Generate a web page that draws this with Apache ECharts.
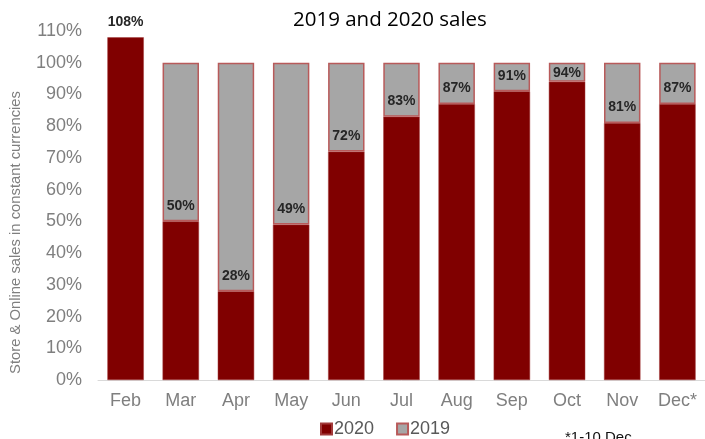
<!DOCTYPE html>
<html><head><meta charset="utf-8">
<script src="https://cdn.jsdelivr.net/npm/echarts@6/dist/echarts.min.js"></script>
<style>html,body{margin:0;padding:0;background:#fff}#c{width:705px;height:439px}</style>
</head><body><div id="c"></div>
<script>
const categories = ['Feb','Mar','Apr','May','Jun','Jul','Aug','Sep','Oct','Nov','Dec*'];
const sales2020 = [108,50,28,49,72,83,87,91,94,81,87];
const sales2019Gap = ['-',50,72,51,28,17,13,9,6,19,13];
const yTicks = {min:0,max:110,interval:10};

// labels that would not fit above the red bar inside the grey part are pulled closer
const data2020 = sales2020.map((v, i) => {
  const gap = sales2019Gap[i];
  if (typeof gap === 'number' && gap < 8) return {value: v, label: {distance: 2}};
  return v;
});

const chart = echarts.init(document.getElementById('c'));
chart.setOption({
  animation:false,
  title:{text:'2019 and 2020 sales',left:288,top:5,
    textStyle:{fontFamily:'Open Sans',fontWeight:'normal',fontSize:20.5,color:'#000'}},
  grid:{left:98,top:31,width:614,height:349,containLabel:false},
  legend:{data:['2020','2019'],bottom:-4,left:315,itemWidth:11,itemHeight:11,itemGap:22,
    icon:'rect',textStyle:{fontFamily:'Liberation Sans',fontSize:18,color:'#595959',padding:[0,0,0,-3]}},
  graphic:[{type:'text',left:565,top:430,style:{text:'*1-10 Dec',font:'15px Liberation Sans',fill:'#111'}}],
  xAxis:{type:'category',data:categories,
    axisLine:{lineStyle:{color:'#d9d9d9'}},axisTick:{show:false},
    axisLabel:{fontFamily:'Liberation Sans',fontSize:18,color:'#7f7f7f',margin:12}},
  yAxis:{type:'value',min:yTicks.min,max:yTicks.max,interval:yTicks.interval,
    name:'Store & Online sales in constant currencies',nameLocation:'middle',nameGap:75,
    nameTextStyle:{fontFamily:'Liberation Sans',fontSize:14.8,color:'#7f7f7f',padding:[0,0,0,-54]},
    splitLine:{show:false},axisLine:{show:false},axisTick:{show:false},
    axisLabel:{formatter:'{value}%',fontFamily:'Liberation Sans',fontSize:18,color:'#7f7f7f',margin:16}},
  series:[
    {name:'2020',type:'bar',stack:'s',data:data2020,barWidth:'66%',
     itemStyle:{color:'#800000',borderColor:'#a23a3a',borderWidth:0.5},
     label:{show:true,position:'top',distance:8.5,formatter:'{c}%',
       fontFamily:'Liberation Sans',fontWeight:'bold',fontSize:14,color:'#262626'}},
    {name:'2019',type:'bar',stack:'s',data:sales2019Gap,barWidth:'66%',
     itemStyle:{color:'#a6a6a6',borderColor:'#b85a5a',borderWidth:1.5}}
  ]
});
</script></body></html>
